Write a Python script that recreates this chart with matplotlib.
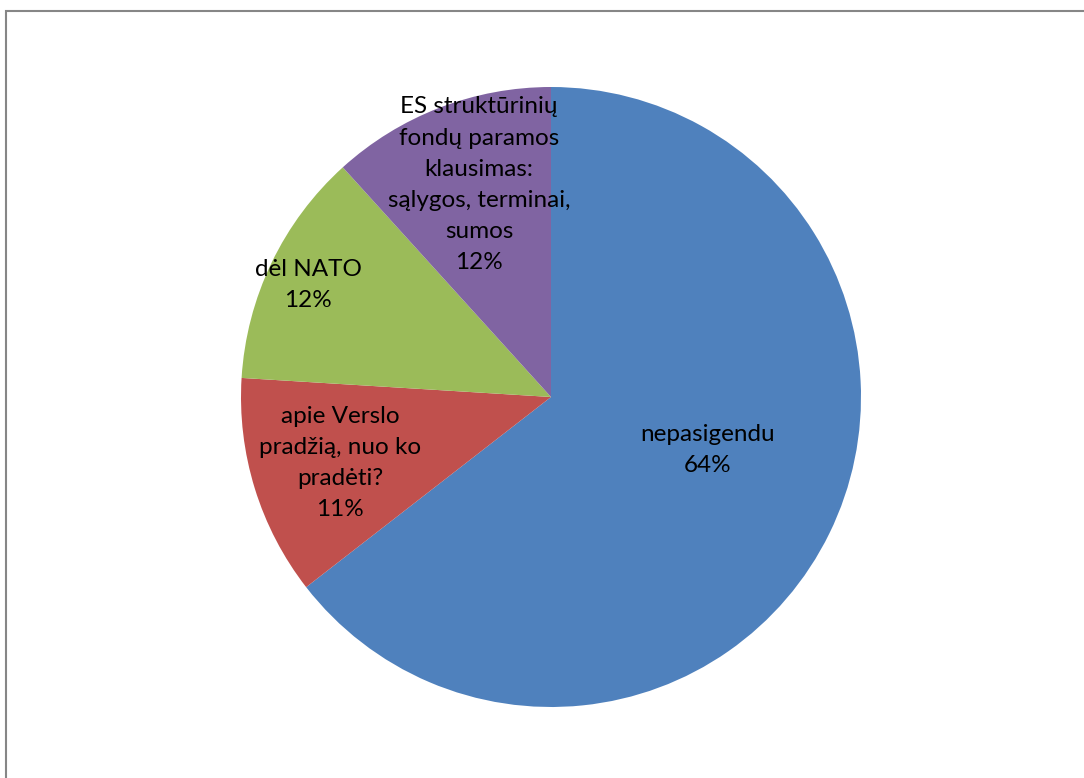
import matplotlib
matplotlib.use("Agg")
import matplotlib.pyplot as plt
import matplotlib.patches as mpatches

# duomenys (procentai)
categories = [
    "nepasigendu",
    "apie Verslo\npradžią, nuo ko\npradėti?",
    "dėl NATO",
    "ES struktūrinių\nfondų paramos\nklausimas:\nsąlygos, terminai,\nsumos",
]
values = [64.49, 11.49, 12.30, 11.72]
colors = ["#4F81BD", "#C0504D", "#9BBB59", "#8064A2"]

# etikečių vietos (spindulio vienetais)
label_pos = [(0.506, -0.171), (-0.681, -0.213), (-0.784, 0.361), (-0.232, 0.684)]

plt.rcParams['font.family'] = ['Lato', 'DejaVu Sans']

W, H = 1084, 778
fig = plt.figure(figsize=(W / 100, H / 100), dpi=100)
fig.patch.set_facecolor("white")

# pyrago vieta pikseliais: x 241..861, y 87..707
ax = fig.add_axes([241 / W, (H - 707) / H, 620 / W, 620 / H])
wedges, _ = ax.pie(values, colors=colors, startangle=90, counterclock=False,
                   radius=1.0, wedgeprops=dict(linewidth=0))
ax.set_xlim(-1, 1)
ax.set_ylim(-1, 1)
ax.set_aspect("equal")
ax.axis("off")

for cat, val, (x, y) in zip(categories, values, label_pos):
    ax.text(x, y, f"{cat}\n{val:.0f}%", ha="center", va="center",
            fontsize=17.5, color="black", linespacing=1.6)

# diagramos rėmelis
border = mpatches.Rectangle((5.5 / W, -0.05), 1.1, 1 - 10.5 / H + 0.05,
                            transform=fig.transFigure, fill=False,
                            edgecolor="#868686", linewidth=1.5)
fig.add_artist(border)

fig.savefig("out.png", dpi=100, facecolor="white")
